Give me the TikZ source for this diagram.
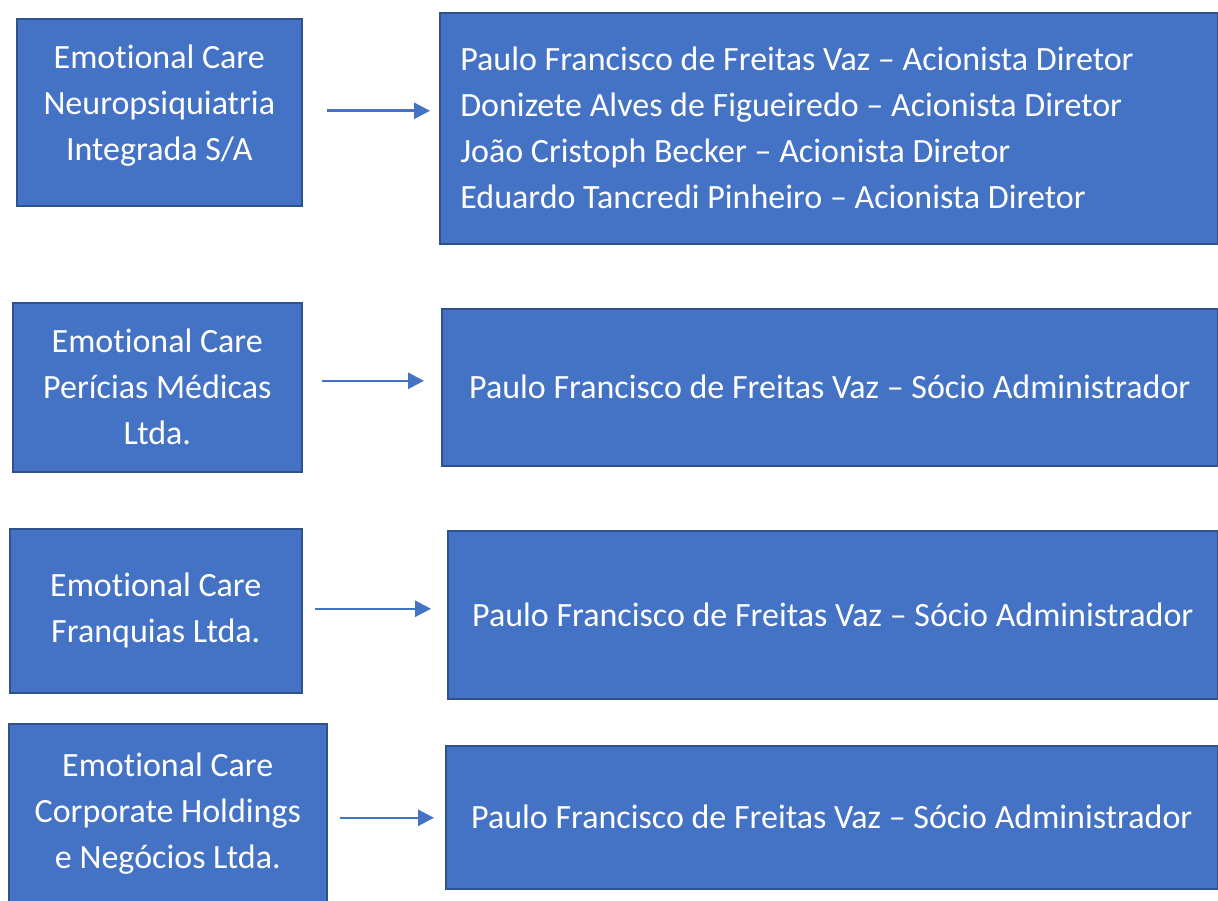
\documentclass[tikz,border=0pt]{standalone}
\usepackage{fontspec}
\setmainfont[Ligatures=NoCommon]{Carlito}
\usetikzlibrary{arrows.meta}
\definecolor{boxfill}{HTML}{4472C4}
\definecolor{boxline}{HTML}{2F528F}
\begin{document}
\begin{tikzpicture}[x=1pt,y=-1pt,
  box/.style={draw=boxline, line width=1.6pt, fill=boxfill, text=white, anchor=north west,
    inner sep=0pt, align=center, font=\fontsize{34}{46}\selectfont},
  boxtext/.style={text=white, inner sep=0pt, align=center, font=\fontsize{34}{46}\selectfont},
  conn/.style={draw=boxfill, line width=2.6pt, -{Triangle[length=16pt,width=16pt]}}]
\useasboundingbox (0,0) rectangle (1218,901);
\fill[white] (0,0) rectangle (1218,901);

\node[box, minimum width=285pt, minimum height=187pt] (l1) at (16,18) {};
\node[boxtext] (t1) at ([yshift=7pt]l1.center)
  {Emotional Care\\Neuropsiquiatria\\Integrada S/A};
\node[box, minimum width=778pt, minimum height=231pt, text width=737pt, align=flush left] (r1) at (439,12)
  {Paulo Francisco de Freitas Vaz – Acionista Diretor\\
   Donizete Alves de Figueiredo – Acionista Diretor\\
   João Cristoph Becker – Acionista Diretor\\
   Eduardo Tancredi Pinheiro – Acionista Diretor};

\node[box, minimum width=289pt, minimum height=169pt] (l2) at (12,302)
  {Emotional Care\\Perícias Médicas\\Ltda.};
\node[box, minimum width=776pt, minimum height=157pt] (r2) at (441,308)
  {Paulo Francisco de Freitas Vaz – Sócio Administrador};

\node[box, minimum width=292pt, minimum height=164pt] (l3) at (9,528)
  {Emotional Care\\Franquias Ltda.};
\node[box, minimum width=770pt, minimum height=168pt] (r3) at (447,530)
  {Paulo Francisco de Freitas Vaz – Sócio Administrador};

\node[box, minimum width=318pt, minimum height=180pt] (l4) at (8,723)
  {Emotional Care\\Corporate Holdings\\e Negócios Ltda.};
\node[box, minimum width=772pt, minimum height=143pt] (r4) at (445,745)
  {Paulo Francisco de Freitas Vaz – Sócio Administrador};

\coordinate (a1) at ([yshift=1.5pt]l1.east);
\coordinate (a2) at ([yshift=6.5pt]l2.east);
\coordinate (a3) at ([yshift=2pt]l3.east);
\coordinate (a4) at ([yshift=-4pt]l4.east);
\draw[conn, shorten <=24pt, shorten >=9pt] (a1) -- (a1 -| r1.west);
\draw[conn, shorten <=19pt, shorten >=17pt] (a2) -- (a2 -| r2.west);
\draw[conn, shorten <=12pt, shorten >=16pt] (a3) -- (a3 -| r3.west);
\draw[conn, shorten <=12pt, shorten >=11pt] (a4) -- (a4 -| r4.west);
\end{tikzpicture}
\end{document}
